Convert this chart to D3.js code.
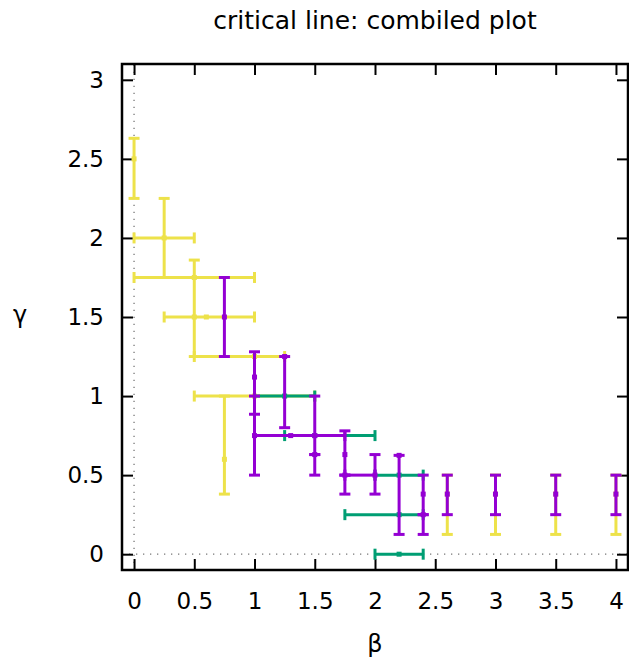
<!DOCTYPE html>
<html>
<head>
<meta charset="utf-8">
<script src="https://cdn.jsdelivr.net/npm/d3@7"></script>
<style>
  body { margin: 0; background: #fff; }
  svg text { font-family: "DejaVu Sans", sans-serif; fill: #000; }
</style>
</head>
<body>
<svg id="chart" width="629" height="658"></svg>
<script>
// each row: [x, y, xlow, xhigh, ylow, yhigh]  (null = no bar in that direction)
var yellowBars = [
  [0,    2.5,  null, null, 2.25, 2.63],
  [0.25, 2.0,  0,    0.5,  1.75, 2.25],
  [0.5,  1.75, 0,    1.0,  null, null],
  [0.5,  1.5,  0.25, 1.0,  1.25, 1.86],
  [0.6,  1.5,  null, null, null, null],
  [1.0,  1.25, 0.5,  1.25, null, null],
  [1.0,  1.0,  0.5,  1.5,  null, null],
  [0.75, 0.6,  null, null, 0.38, 1.0],
  [2.6,  0.38, null, null, 0.125, 0.5],
  [3.0,  0.38, null, null, 0.125, 0.5],
  [3.5,  0.38, null, null, 0.125, 0.5],
  [4.0,  0.38, null, null, 0.125, 0.5]
];
var greenBars = [
  [1.25, 1.0,  1.0,  1.5,  null, null],
  [1.5,  0.75, 1.25, 2.0,  null, null],
  [2.2,  0.5,  2.0,  2.4,  null, null],
  [2.2,  0.25, 1.75, 2.4,  null, null],
  [2.2,  0.0,  2.0,  2.4,  null, null]
];
var purpleBars = [
  [0.75, 1.5,  null, null, 1.25, 1.75],
  [1.0,  1.12, null, null, 0.885, 1.28],
  [1.0,  0.75, 1.0,  1.75, 0.5,  1.0],
  [1.25, 1.25, null, null, 0.8,  1.25],
  [1.3,  0.75, null, null, null, null],
  [1.5,  0.75, null, null, 0.5,  1.0],
  [1.5,  0.63, null, null, 0.63, 0.63],
  [1.75, 0.63, null, null, 0.38, 0.78],
  [1.75, 0.5,  1.75, 2.0,  0.5,  0.5],
  [2.0,  0.5,  null, null, 0.38, 0.63],
  [2.2,  0.625, null, null, 0.125, 0.625],
  [2.4,  0.38, null, null, 0.25, 0.5],
  [2.4,  0.25, null, null, 0.125, 0.25],
  [2.6,  0.38, null, null, 0.25, 0.5],
  [3.0,  0.38, null, null, 0.25, 0.5],
  [3.5,  0.38, null, null, 0.25, 0.5],
  [4.0,  0.38, null, null, 0.25, 0.5]
];
var xTicks = [0, 0.5, 1, 1.5, 2, 2.5, 3, 3.5, 4];
var yTicks = [0, 0.5, 1, 1.5, 2, 2.5, 3];

(function () {
  var svg = d3.select("#chart");
  var plotLeft = 122, plotRight = 628, plotTop = 64, plotBottom = 570;
  var tickLen = 11, capHalf = 5.5, barWidth = 3;

  var x = d3.scaleLinear().domain([-0.1, 4.1]).range([plotLeft, plotRight]);
  var y = d3.scaleLinear().domain([-0.1, 3.1]).range([plotBottom, plotTop]);

  // zero axes (dotted)
  svg.append("line")
    .attr("x1", x(0)).attr("x2", x(0)).attr("y1", plotBottom).attr("y2", plotTop)
    .style("stroke", "#777").style("stroke-width", 1.3).style("stroke-dasharray", "1.3,5.7");
  svg.append("line")
    .attr("x1", plotLeft).attr("x2", plotRight).attr("y1", y(0)).attr("y2", y(0))
    .style("stroke", "#777").style("stroke-width", 1.3).style("stroke-dasharray", "1.3,5.7");

  // axes, ticks drawn inward and mirrored
  var fmt = function(d) { return String(d); };
  svg.append("g").attr("class", "axis axis--x")
    .attr("transform", "translate(0," + plotBottom + ")")
    .call(d3.axisBottom(x).tickValues(xTicks).tickSize(-tickLen).tickPadding(25).tickFormat(fmt));
  svg.append("g").attr("class", "axis axis--x2")
    .attr("transform", "translate(0," + plotTop + ")")
    .call(d3.axisTop(x).tickValues(xTicks).tickSize(-tickLen).tickFormat(""));
  svg.append("g").attr("class", "axis axis--y")
    .attr("transform", "translate(" + plotLeft + ",0)")
    .call(d3.axisLeft(y).tickValues(yTicks).tickSize(-tickLen).tickPadding(18).tickFormat(fmt));
  svg.append("g").attr("class", "axis axis--y2")
    .attr("transform", "translate(" + plotRight + ",0)")
    .call(d3.axisRight(y).tickValues(yTicks).tickSize(-tickLen).tickFormat(""));

  svg.selectAll(".axis .domain").remove();
  svg.selectAll(".axis line").style("stroke", "#000").style("stroke-width", 2);
  svg.selectAll(".axis text")
    .style("font-family", "DejaVu Sans, sans-serif")
    .style("font-size", "23px")
    .style("fill", "#000");
  svg.selectAll(".axis--x text").attr("dy", "0.6em");

  // frame
  svg.append("rect")
    .attr("x", plotLeft).attr("y", plotTop)
    .attr("width", plotRight - plotLeft).attr("height", plotBottom - plotTop)
    .style("fill", "none").style("stroke", "#000").style("stroke-width", 2.5);

  function drawBars(rows, color) {
    var g = svg.append("g").style("stroke", color).style("stroke-width", barWidth).style("fill", "none");
    rows.forEach(function(d) {
      var px = x(d[0]), py = y(d[1]);
      if (d[2] !== null) {
        g.append("line").attr("x1", x(d[2])).attr("x2", x(d[3])).attr("y1", py).attr("y2", py);
        [d[2], d[3]].forEach(function(v) {
          g.append("line").attr("x1", x(v)).attr("x2", x(v)).attr("y1", py - capHalf).attr("y2", py + capHalf);
        });
      }
      if (d[4] !== null) {
        g.append("line").attr("x1", px).attr("x2", px).attr("y1", y(d[4])).attr("y2", y(d[5]));
        [d[4], d[5]].forEach(function(v) {
          g.append("line").attr("x1", px - capHalf).attr("x2", px + capHalf).attr("y1", y(v)).attr("y2", y(v));
        });
      }
      g.append("rect")
        .attr("x", px - 2.5).attr("y", py - 2.5)
        .attr("width", 5).attr("height", 5)
        .style("fill", color).style("stroke", "none");
    });
  }

  drawBars(yellowBars, "#ede24a");
  drawBars(greenBars, "#009e73");
  drawBars(purpleBars, "#9400d3");

  // title and axis labels
  svg.append("text")
    .attr("x", (plotLeft + plotRight) / 2).attr("y", 29)
    .attr("text-anchor", "middle")
    .style("font-size", "25px")
    .text("critical line: combiled plot");
  svg.append("text")
    .attr("x", 20).attr("y", 323)
    .attr("text-anchor", "middle")
    .style("font-size", "24px")
    .text("γ");
  svg.append("text")
    .attr("x", (plotLeft + plotRight) / 2).attr("y", 652)
    .attr("text-anchor", "middle")
    .style("font-size", "24px")
    .text("β");
})();
</script>
</body>
</html>
